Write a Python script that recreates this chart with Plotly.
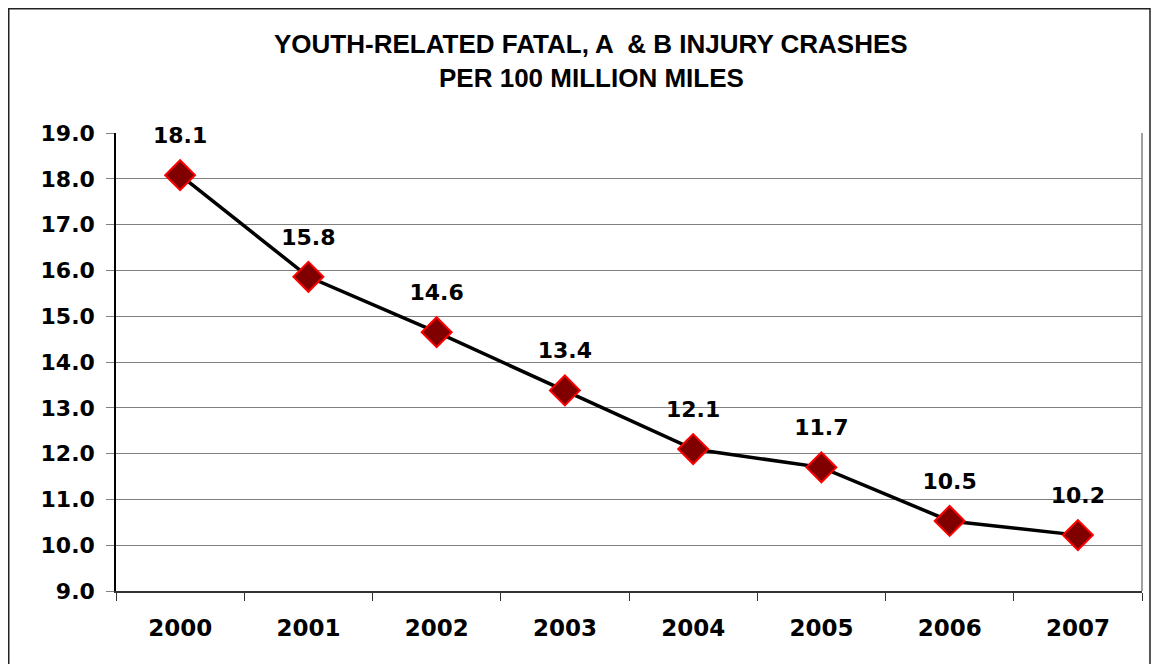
import plotly.graph_objects as go

years = ["2000", "2001", "2002", "2003", "2004", "2005", "2006", "2007"]
rates = [18.08, 15.86, 14.65, 13.38, 12.10, 11.70, 10.53, 10.22]
rate_labels = ["18.1", "15.8", "14.6", "13.4", "12.1", "11.7", "10.5", "10.2"]
y_ticks = [9.0, 10.0, 11.0, 12.0, 13.0, 14.0, 15.0, 16.0, 17.0, 18.0, 19.0]
title_lines = ["YOUTH-RELATED FATAL, A  & B INJURY CRASHES", "PER 100 MILLION MILES"]

# page has an 8px body margin; figure coordinates = page coordinates - 8
OFF = 8
W, H = 1159 - OFF, 664 - OFF
L, R, T, B = 116 - OFF, 1142 - OFF, 133 - OFF, 591 - OFF


def px_x(p):
    return (p - OFF - L) / (R - L)


def px_y(p):
    return (B - (p - OFF)) / (B - T)


fig = go.Figure()
fig.add_trace(go.Scatter(
    x=years, y=rates, mode="lines+markers",
    line=dict(color="black", width=3.5),
    marker=dict(symbol="diamond", size=23, color="#800000",
                line=dict(color="#ff0000", width=2)),
    hoverinfo="skip", showlegend=False,
))
# value labels (transparent large markers give the label offset)
fig.add_trace(go.Scatter(
    x=years, y=rates, mode="markers+text", text=rate_labels, textposition="top center",
    marker=dict(size=41, color="rgba(0,0,0,0)"),
    textfont=dict(family="DejaVu Sans", size=22, color="black", weight="bold"),
    hoverinfo="skip", showlegend=False, cliponaxis=False,
))

for i, line in enumerate(title_lines):
    fig.add_annotation(x=px_x(591), y=px_y([44, 78][i]), xref="paper", yref="paper", text=line,
                       showarrow=False, xanchor="center", yanchor="middle",
                       font=dict(family="Liberation Sans", size=26, color="black", weight="bold"))

# outer chart border
fig.add_shape(type="rect", xref="paper", yref="paper",
              x0=px_x(8.75), x1=px_x(1150), y0=px_y(700), y1=px_y(8.75),
              line=dict(color="#222222", width=1.5), layer="above")
# right plot-area edge
fig.add_shape(type="line", xref="paper", yref="paper",
              x0=1, x1=1, y0=0, y1=1, line=dict(color="#808080", width=1.5))

fig.update_layout(
    width=W, height=H,
    margin=dict(l=L, r=W - R, t=T, b=H - B),
    paper_bgcolor="white", plot_bgcolor="white",
    xaxis=dict(
        type="category", showgrid=False, showline=True, linecolor="#333333", linewidth=1.5,
        ticks="outside", tickson="boundaries", ticklen=8, tickcolor="#333333",
        tickfont=dict(family="DejaVu Sans", size=23, color="black", weight="bold"),
        ticklabelstandoff=16, range=[-0.5, 7.5], fixedrange=True,
    ),
    yaxis=dict(
        range=[9, 19], tickvals=y_ticks, ticktext=[f"{v:.1f}" for v in y_ticks],
        showgrid=True, gridcolor="#808080", gridwidth=1,
        showline=True, linecolor="black", linewidth=1.5,
        ticks="outside", ticklen=8, tickcolor="#808080",
        tickfont=dict(family="DejaVu Sans", size=22, color="black", weight="bold"),
        ticklabelstandoff=7, zeroline=False, fixedrange=True,
    ),
)

fig.write_html("out.html")
